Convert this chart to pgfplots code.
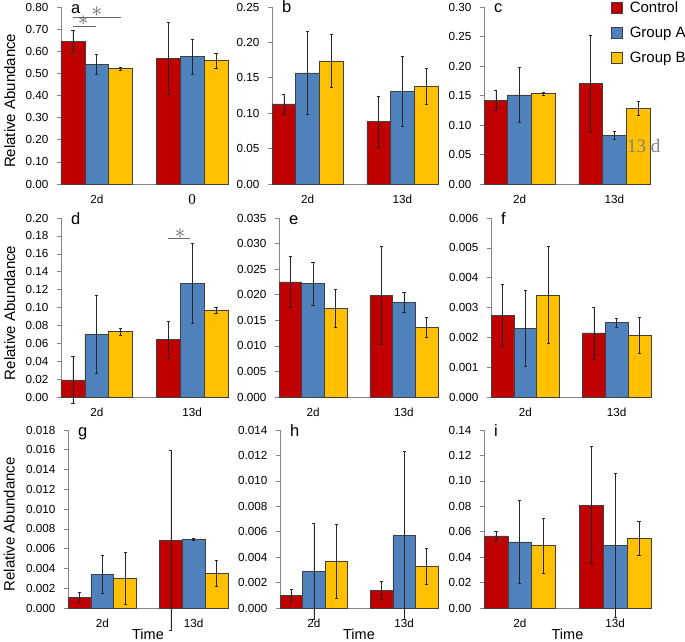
\documentclass[border=0pt]{standalone}
\usepackage{fontspec}
\setmainfont{Liberation Sans}
\newfontfamily\seriffont{Liberation Serif}
\usepackage{pgfplots}
\pgfplotsset{compat=1.18}
\definecolor{cRed}{HTML}{C00000}
\definecolor{cBlue}{HTML}{4F81BD}
\definecolor{cGold}{HTML}{FFC000}
\definecolor{axgray}{HTML}{858585}

\pgfplotsset{
 sq legend/.style={legend image code/.code={\draw[##1, draw=black!75, line width=0.6pt] (0pt,-5.5pt) rectangle (11pt,5.5pt);}},
 bars/.style={ybar, bar width=0.25, bar shift=0pt, draw=black!75, line width=0.6pt, sq legend,
   error bars/y dir=both, error bars/y explicit,
   error bars/error bar style={black!85, line width=0.6pt},
   error bars/error mark options={rotate=90, black!85, mark size=1.6pt, line width=0.6pt}},
 panel/.style={scale only axis, xmin=-0.375, xmax=1.375, ymin=0,
   axis x line*=bottom, axis y line*=left,
   axis line style={draw=axgray, line width=0.8pt},
   xtick={0,1}, xticklabels={2d,13d},
   tick align=outside, major tick length=4pt,
   xtick style={draw=none}, ytick style={draw=axgray, line width=0.6pt},
   clip=false, scaled y ticks=false,
   /pgf/number format/assume math mode=true,
   /pgf/number format/fixed, /pgf/number format/fixed zerofill, /pgf/number format/precision=#1,
   tick label style={font=\fontsize{11.7}{12}\selectfont},
   yticklabel style={xshift=-5pt},
   xticklabel style={yshift=-3pt},
   ylabel style={font=\fontsize{15}{15}\selectfont, anchor=south, inner sep=0pt},
   xlabel style={font=\fontsize{14.5}{14.5}\selectfont, anchor=base, inner sep=0pt},
 },
 panel/.default=2,
}
\newcommand\plabel[1]{\node[anchor=base west, inner sep=0pt, font=\fontsize{16.5}{16.5}\selectfont] at ([xshift=10pt,yshift=-6pt]rel axis cs:0,1) {#1};}
\newcommand\sigstar[1]{\node[text=black!62, inner sep=0pt, font=\fontsize{22}{22}\selectfont] at (#1) {$\ast$};}

\begin{document}
\begin{tikzpicture}
\path[use as bounding box] (0pt,0pt) rectangle (685pt,641pt);

% Bars: Control at x-0.25, Group A at x, Group B at x+0.25 (x = 0 for 2d, 1 for 13d)
% ---------- a ----------
\begin{axis}[panel=2, at={(61pt,457pt)}, anchor=south west, width=167pt, height=177pt,
  ymax=0.8, ytick={0,0.1,0.2,0.3,0.4,0.5,0.6,0.7,0.8},
  xticklabels={2d,{\seriffont\fontsize{15}{15}\selectfont 0}},
  ylabel=Relative Abundance, ylabel style={at={(axis description cs:-0.272,0.47)}}]
\addplot[fill=cRed, bars] coordinates {(-0.25,0.643) +- (0,0.053) (0.75,0.567) +- (0,0.162)};
\addplot[fill=cBlue, bars] coordinates {(0,0.539) +- (0,0.045) (1,0.575) +- (0,0.077)};
\addplot[fill=cGold, bars] coordinates {(0.25,0.522) +- (0,0.006) (1.25,0.558) +- (0,0.033)};
\plabel{a}
\draw[black!60, line width=0.8pt] (axis cs:-0.252,0.753) -- (axis cs:0.254,0.753);
\draw[black!60, line width=0.8pt] (axis cs:-0.252,0.714) -- (axis cs:-0.008,0.714);
\sigstar{axis cs:0.0,0.777}
\sigstar{axis cs:-0.141,0.738}
\end{axis}

% ---------- b ----------
\begin{axis}[panel=2, at={(272pt,457pt)}, anchor=south west, width=166pt, height=177pt,
  ymax=0.25, ytick={0,0.05,0.10,0.15,0.20,0.25}]
\addplot[fill=cRed, bars] coordinates {(-0.25,0.113) +- (0,0.014) (0.75,0.088) +- (0,0.036)};
\addplot[fill=cBlue, bars] coordinates {(0,0.157) +- (0,0.058) (1,0.131) +- (0,0.050)};
\addplot[fill=cGold, bars] coordinates {(0.25,0.174) +- (0,0.037) (1.25,0.138) +- (0,0.025)};
\plabel{b}
\end{axis}

% ---------- c ----------
\begin{axis}[panel=2, at={(484pt,457pt)}, anchor=south west, width=166pt, height=177pt,
  ymax=0.30, ytick={0,0.05,0.10,0.15,0.20,0.25,0.30},
  legend cell align=left,
  legend style={at={(axis description cs:0.765,1.042)}, anchor=north west, draw=none, fill=none,
    inner sep=0pt, font=\fontsize{15}{15}\selectfont, row sep=9pt, column sep=5pt, nodes={inner sep=2pt}}]
\addplot[fill=cRed, bars] coordinates {(-0.25,0.142) +- (0,0.017) (0.75,0.170) +- (0,0.082)};
\addplot[fill=cBlue, bars] coordinates {(0,0.151) +- (0,0.046) (1,0.083) +- (0,0.007)};
\addplot[fill=cGold, bars] coordinates {(0.25,0.153) +- (0,0.002) (1.25,0.128) +- (0,0.012)};
\legend{Control,Group A,Group B}
\plabel{c}
\node[anchor=base west, inner sep=0pt, text=black!50, font=\seriffont\fontsize{19}{19}\selectfont] at (axis cs:1.132,0.054) {13 d};
\end{axis}

% ---------- d ----------
\begin{axis}[panel=2, at={(61pt,244pt)}, anchor=south west, width=167pt, height=179pt,
  ymax=0.20, ytick={0,0.02,0.04,0.06,0.08,0.10,0.12,0.14,0.16,0.18,0.20},
  ylabel=Relative Abundance, ylabel style={at={(axis description cs:-0.272,0.47)}}]
\addplot[fill=cRed, bars] coordinates {(-0.25,0.019) +- (0,0.026) (0.75,0.064) +- (0,0.021)};
\addplot[fill=cBlue, bars] coordinates {(0,0.070) +- (0,0.044) (1,0.127) +- (0,0.045)};
\addplot[fill=cGold, bars] coordinates {(0.25,0.073) +- (0,0.004) (1.25,0.097) +- (0,0.003)};
\plabel{d}
\draw[black!60, line width=0.8pt] (axis cs:0.746,0.1773) -- (axis cs:0.977,0.1773);
\sigstar{axis cs:0.872,0.1820}
\end{axis}

% ---------- e ----------
\begin{axis}[panel=3, at={(279pt,244pt)}, anchor=south west, width=159pt, height=179pt,
  ymax=0.035, ytick={0,0.005,0.010,0.015,0.020,0.025,0.030,0.035}]
\addplot[fill=cRed, bars] coordinates {(-0.25,0.0225) +- (0,0.0050) (0.75,0.0199) +- (0,0.0095)};
\addplot[fill=cBlue, bars] coordinates {(0,0.0222) +- (0,0.0042) (1,0.0185) +- (0,0.0019)};
\addplot[fill=cGold, bars] coordinates {(0.25,0.0173) +- (0,0.0037) (1.25,0.0136) +- (0,0.0020)};
\plabel{e}
\end{axis}

% ---------- f ----------
\begin{axis}[panel=3, at={(491pt,244pt)}, anchor=south west, width=160pt, height=179pt,
  ymax=0.006, ytick={0,0.001,0.002,0.003,0.004,0.005,0.006}]
\addplot[fill=cRed, bars] coordinates {(-0.25,0.00273) +- (0,0.00104) (0.75,0.00215) +- (0,0.00087)};
\addplot[fill=cBlue, bars] coordinates {(0,0.00231) +- (0,0.00128) (1,0.00249) +- (0,0.00015)};
\addplot[fill=cGold, bars] coordinates {(0.25,0.00342) +- (0,0.00163) (1.25,0.00208) +- (0,0.00060)};
\plabel{f}
\end{axis}

% ---------- g ----------
\begin{axis}[panel=3, at={(68pt,33pt)}, anchor=south west, width=160pt, height=178pt,
  ymax=0.018, ytick={0,0.002,0.004,0.006,0.008,0.010,0.012,0.014,0.016,0.018},
  ylabel=Relative Abundance, ylabel style={at={(axis description cs:-0.331,0.47)}},
  xlabel=Time, xlabel style={at={(axis description cs:0.5,-0.175)}}]
\addplot[fill=cRed, bars] coordinates {(-0.25,0.0011) +- (0,0.0005) (0.75,0.0068) +- (0,0.0091)};
\addplot[fill=cBlue, bars] coordinates {(0,0.0034) +- (0,0.0019) (1,0.0069) +- (0,0.0001)};
\addplot[fill=cGold, bars] coordinates {(0.25,0.0030) +- (0,0.0026) (1.25,0.0035) +- (0,0.0013)};
\plabel{g}
\end{axis}

% ---------- h ----------
\begin{axis}[panel=3, at={(280pt,33pt)}, anchor=south west, width=158pt, height=178pt,
  ymax=0.014, ytick={0,0.002,0.004,0.006,0.008,0.010,0.012,0.014},
  xlabel=Time, xlabel style={at={(axis description cs:0.5,-0.175)}}]
\addplot[fill=cRed, bars] coordinates {(-0.25,0.0010) +- (0,0.0005) (0.75,0.0014) +- (0,0.0007)};
\addplot[fill=cBlue, bars] coordinates {(0,0.0029) +- (0,0.0038) (1,0.0057) +- (0,0.0066)};
\addplot[fill=cGold, bars] coordinates {(0.25,0.0037) +- (0,0.0029) (1.25,0.0033) +- (0,0.0014)};
\plabel{h}
\end{axis}

% ---------- i ----------
\begin{axis}[panel=2, at={(484pt,33pt)}, anchor=south west, width=167pt, height=178pt,
  ymax=0.14, ytick={0,0.02,0.04,0.06,0.08,0.10,0.12,0.14},
  xlabel=Time, xlabel style={at={(axis description cs:0.5,-0.175)}}]
\addplot[fill=cRed, bars] coordinates {(-0.25,0.0567) +- (0,0.0035) (0.75,0.081) +- (0,0.046)};
\addplot[fill=cBlue, bars] coordinates {(0,0.052) +- (0,0.0325) (1,0.0495) +- (0,0.0565)};
\addplot[fill=cGold, bars] coordinates {(0.25,0.049) +- (0,0.0215) (1.25,0.055) +- (0,0.0135)};
\plabel{i}
\end{axis}
\end{tikzpicture}
\end{document}
